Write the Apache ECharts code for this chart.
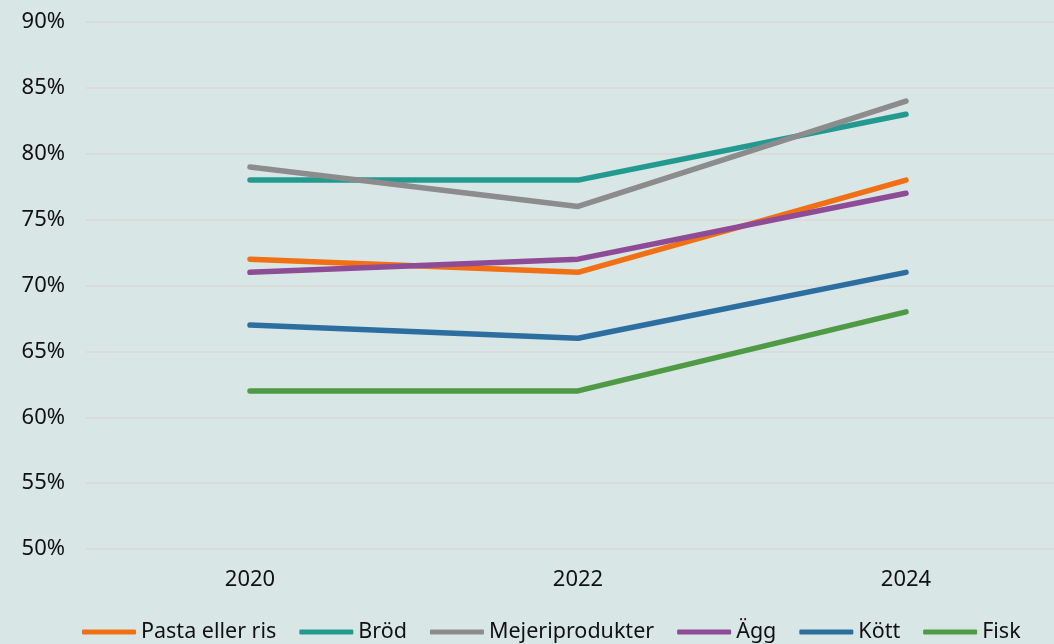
<!DOCTYPE html>
<html><head><meta charset="utf-8">
<script src="https://cdn.jsdelivr.net/npm/echarts@6/dist/echarts.min.js"></script>
<style>html,body{margin:0;padding:0;background:#d8e6e5;overflow:hidden}#c{width:1070px;height:644px}</style>
</head><body><div id="c"></div>
<script>
const years = ['2020','2022','2024'];
const pasta = [72, 71, 78];
const brod = [78, 78, 83];
const mejeri = [79, 76, 84];
const agg = [71, 72, 77];
const kott = [67, 66, 71];
const fisk = [62, 62, 68];
const names = ['Pasta eller ris','Bröd','Mejeriprodukter','Ägg','Kött','Fisk'];
const colors = ['#f07013','#229a8f','#8c8c8c','#8e4b96','#2c6e9f','#4e9a45'];
const values = [pasta, brod, mejeri, agg, kott, fisk];
const font = '"Noto Sans", sans-serif';
const chart = echarts.init(document.getElementById('c'));
chart.setOption({
  backgroundColor: '#d8e6e5',
  animation: false,
  grid: {left: 86, top: 22, right: 0, height: 527, containLabel: false},
  legend: {
    top: 621, left: 82, padding: 0,
    itemWidth: 54, itemHeight: 5, itemGap: 23, icon: 'roundRect',
    textStyle: {fontFamily: font, fontSize: 21.5, color: '#111'},
    data: names
  },
  xAxis: {
    type: 'category', data: years, boundaryGap: true,
    axisLine: {show: false}, axisTick: {show: false},
    axisLabel: {fontFamily: font, fontSize: 22, color: '#111', margin: 20}
  },
  yAxis: {
    type: 'value', min: 50, max: 90, interval: 5,
    axisLabel: {formatter: '{value}%', fontFamily: font, fontSize: 22, color: '#111', margin: 21},
    splitLine: {lineStyle: {color: '#dbdbdb', width: 2}}
  },
  series: names.map((n, i) => ({
    name: n, type: 'line', data: values[i], symbol: 'none',
    lineStyle: {width: 5.5, color: colors[i], cap: 'round', join: 'round'},
    itemStyle: {color: colors[i]}
  }))
});
</script></body></html>
